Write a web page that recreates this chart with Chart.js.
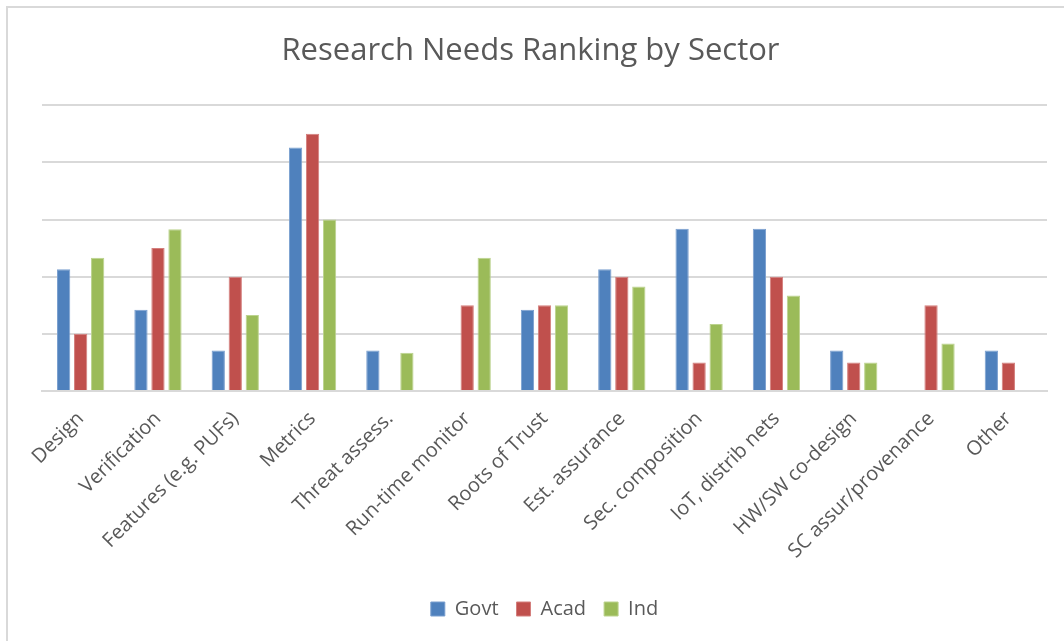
<!DOCTYPE html>
<html>
<head>
<meta charset="utf-8">
<title>Research Needs Ranking by Sector</title>
<script src="https://cdn.jsdelivr.net/npm/chart.js@4.4.1/dist/chart.umd.min.js"></script>
<style>
  html, body { margin: 0; padding: 0; background: #fff; overflow: hidden; }
  #frame {
    position: absolute; left: 6px; top: 6px; width: 1100px; height: 700px;
    border: 2px solid #d9d9d9; box-sizing: border-box;
  }
  #wrap { position: absolute; left: 0; top: 0; width: 1064px; height: 641px; }
</style>
</head>
<body>
<div id="frame"></div>
<div id="wrap"><canvas id="sectorChart" width="1064" height="641"></canvas></div>
<script>
// Research needs, ranked per sector
const categories = [
  'Design', 'Verification', 'Features (e.g. PUFs)', 'Metrics', 'Threat assess.',
  'Run-time monitor', 'Roots of Trust', 'Est. assurance', 'Sec. composition',
  'IoT, distrib nets', 'HW/SW co-design', 'SC assur/provenance', 'Other'
];
const govt = [2.13, 1.42, 0.71, 4.26, 0.71, 0, 1.42, 2.13, 2.84, 2.84, 0.71, 0, 0.71];
const acad = [1.0, 2.5, 2.0, 4.5, 0, 1.5, 1.5, 2.0, 0.5, 2.0, 0.5, 1.5, 0.5];
const ind  = [2.33, 2.83, 1.33, 3.0, 0.67, 2.33, 1.5, 1.83, 1.17, 1.67, 0.5, 0.83, 0];
const yTicks = [0, 1, 2, 3, 4, 5];

const textColor = '#595959';
const gridColor = '#d9d9d9';
const font = '"Open Sans", "Liberation Sans", sans-serif';

function series(label, data, color, edge) {
  return {
    label: label,
    data: data,
    backgroundColor: color,
    borderColor: edge,
    borderWidth: 1,
    categoryPercentage: 0.66,
    barPercentage: 0.78
  };
}

const ctx = document.getElementById('sectorChart').getContext('2d');
window.sectorChart = new Chart(ctx, {
  type: 'bar',
  data: {
    labels: categories,
    datasets: [
      series('Govt', govt, '#4f81bd', '#7a9fcf'),
      series('Acad', acad, '#c0504d', '#d47f7d'),
      series('Ind',  ind,  '#9bbb59', '#bcd38e')
    ]
  },
  options: {
    responsive: false,
    animation: false,
    layout: { padding: { left: 14, right: 17, top: 20, bottom: 12 } },
    plugins: {
      title: {
        display: true,
        text: 'Research Needs Ranking by Sector',
        color: textColor,
        font: { family: font, size: 31, weight: 'normal' },
        padding: { top: 13, bottom: 35 }
      },
      legend: {
        position: 'bottom',
        fullSize: false,
        labels: {
          color: textColor,
          font: { family: font, size: 20 },
          boxWidth: 14,
          boxHeight: 14,
          padding: 18
        }
      },
      tooltip: { enabled: false }
    },
    scales: {
      x: {
        grid: { display: false },
        border: { color: gridColor, width: 2 },
        ticks: {
          color: textColor,
          font: { family: font, size: 20 },
          minRotation: 45,
          maxRotation: 45,
          padding: 8
        },
        afterFit: axis => { axis.height = 190; }
      },
      y: {
        min: yTicks[0],
        max: yTicks[yTicks.length - 1],
        afterBuildTicks: axis => { axis.ticks = yTicks.map(v => ({ value: v })); },
        grid: { color: gridColor, lineWidth: 2, drawTicks: false },
        border: { display: false },
        ticks: { display: false },
        afterFit: axis => { axis.width = 28; }
      }
    }
  }
});
</script>
</body>
</html>
